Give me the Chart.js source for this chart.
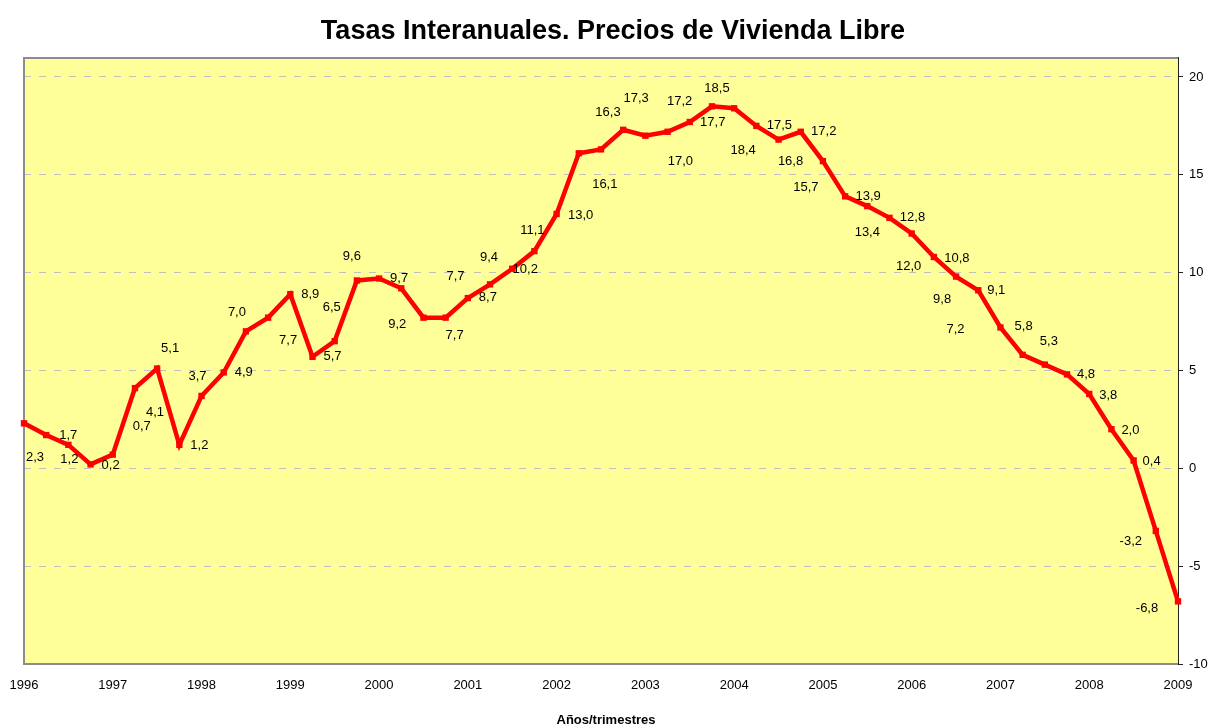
<!DOCTYPE html>
<html>
<head>
<meta charset="utf-8">
<script src="https://cdn.jsdelivr.net/npm/chart.js@4"></script>
<style>
    body { margin: 0; background: #fff; }
    canvas { display: block; }
</style>
</head>
<body>
<canvas id="chart" width="1209" height="728"></canvas>
<script>
// Year tick labels on the x axis (one per 4 quarters)
const years = ['1996', '1997', '1998', '1999', '2000', '2001', '2002', '2003', '2004', '2005', '2006', '2007', '2008', '2009'];
const quarterNames = ['I', 'II', 'III', 'IV'];

// Year-on-year rates, quarterly, 1996-I .. 2009-I
const rates = [
    2.3, 1.7, 1.2, 0.2,
    0.7, 4.1, 5.1, 1.2,
    3.7, 4.9, 7.0, 7.7,
    8.9, 5.7, 6.5, 9.6,
    9.7, 9.2, 7.7, 7.7,
    8.7, 9.4, 10.2, 11.1,
    13.0, 16.1, 16.3, 17.3,
    17.0, 17.2, 17.7, 18.5,
    18.4, 17.5, 16.8, 17.2,
    15.7, 13.9, 13.4, 12.8,
    12.0, 10.8, 9.8, 9.1,
    7.2, 5.8, 5.3, 4.8,
    3.8, 2.0, 0.4, -3.2,
    -6.8
];

// Right axis ticks
const yTicks = [-10, -5, 0, 5, 10, 15, 20];

// Where each value label sits relative to its point (dx, dy in px)
const labelOffsets = [
    [11, 34], [22, 0], [1, 15], [20, 1],
    [29, -28], [20, 24], [13, -20], [20, 1],
    [-4, -20], [20, 0], [-9, -19], [20, 23],
    [20, 0], [20, 0], [-3, -34], [-5, -24],
    [20, 0], [-4, 36], [32, -41], [9, 18],
    [20, -1], [-1, -27], [13, 1], [-2, -21],
    [24, 1], [26, 31], [7, -37], [13, -31],
    [35, 26], [12, -30], [23, 0], [5, -18],
    [9, 42], [23, 0], [12, 22], [23, 0],
    [-17, 26], [23, 0], [0, 26], [23, 0],
    [-3, 33], [23, 1], [-14, 23], [18, 0],
    [-45, 2], [1, -28], [4, -23], [19, 0],
    [19, 1], [19, 1], [18, 1], [-25, 10],
    [-31, 7]
];

// Build quarter categories from the years
const categories = [];
years.forEach((y, i) => {
    quarterNames.forEach((q, j) => {
        if (i < years.length - 1 || j === 0) categories.push(y + '-' + q);
    });
});

const FONT = '"Liberation Sans", Arial, sans-serif';

// Plot background, border, value labels and titles
const decorPlugin = {
    id: 'decor',
    beforeDraw(chart) {
        const { ctx, chartArea: a } = chart;
        ctx.save();
        ctx.fillStyle = '#ffffff';
        ctx.fillRect(0, 0, chart.width, chart.height);
        ctx.fillStyle = '#ffff99';
        ctx.fillRect(a.left, a.top, a.right - a.left, a.bottom - a.top);
        ctx.restore();
    },
    beforeDatasetsDraw(chart) {
        const { ctx, chartArea: a } = chart;
        ctx.save();
        ctx.strokeStyle = '#8c8c8c';
        ctx.lineWidth = 2;
        ctx.beginPath();
        ctx.moveTo(a.right, a.top);
        ctx.lineTo(a.left, a.top);
        ctx.lineTo(a.left, a.bottom);
        ctx.lineTo(a.right, a.bottom);
        ctx.stroke();
        ctx.strokeStyle = '#222';
        ctx.lineWidth = 1;
        ctx.beginPath();
        ctx.moveTo(a.right + 0.5, a.top - 1);
        ctx.lineTo(a.right + 0.5, a.bottom + 1);
        ctx.stroke();
        ctx.restore();
    },
    afterDatasetsDraw(chart) {
        const { ctx } = chart;
        const meta = chart.getDatasetMeta(0);
        ctx.save();
        ctx.font = '13px ' + FONT;
        ctx.fillStyle = '#000';
        ctx.textAlign = 'center';
        ctx.textBaseline = 'middle';
        meta.data.forEach((pt, i) => {
            const off = labelOffsets[i] || [0, -18];
            const txt = rates[i].toFixed(1).replace('.', ',');
            ctx.fillText(txt, pt.x + off[0], pt.y + off[1]);
        });
        ctx.restore();
    },
    afterDraw(chart) {
        const { ctx } = chart;
        ctx.save();
        ctx.fillStyle = '#000';
        ctx.textAlign = 'center';
        ctx.textBaseline = 'alphabetic';
        ctx.font = 'bold 27px ' + FONT;
        ctx.fillText('Tasas Interanuales. Precios de Vivienda Libre', 613, 39);
        ctx.font = 'bold 13px ' + FONT;
        ctx.fillText('Años/trimestres', 606, 724);
        ctx.restore();
    }
};

new Chart(document.getElementById('chart'), {
    type: 'line',
    data: {
        labels: categories,
        datasets: [{
            data: rates,
            borderColor: '#ff0000',
            backgroundColor: '#ff0000',
            borderWidth: 4.5,
            pointStyle: 'rect',
            pointRadius: 4.5,
            pointBorderWidth: 0,
            pointBackgroundColor: '#ff0000',
            tension: 0,
            clip: false
        }]
    },
    options: {
        responsive: false,
        animation: false,
        layout: { padding: { left: 24, top: 58, right: 0, bottom: 0 } },
        plugins: {
            legend: { display: false },
            title: { display: false },
            tooltip: { enabled: false }
        },
        scales: {
            x: {
                type: 'category',
                offset: false,
                grid: { display: false, drawTicks: false },
                border: { display: false },
                ticks: {
                    autoSkip: false,
                    maxRotation: 0,
                    minRotation: 0,
                    padding: 14,
                    color: '#000',
                    font: { family: FONT, size: 13 },
                    callback: (val, i) => (i % 4 === 0 ? years[i / 4] : '')
                },
                afterFit: (scale) => {
                    scale.height = 64;
                    scale.paddingLeft = 0;
                    scale.paddingRight = 0;
                }
            },
            y: {
                position: 'right',
                min: -10,
                max: 20.97,
                afterBuildTicks: (scale) => {
                    scale.ticks = yTicks.map(v => ({ value: v }));
                },
                grid: {
                    color: (c) => (c.tick && c.tick.value === -10 ? 'rgba(0,0,0,0)' : '#c0c0c0'),
                    lineWidth: 1,
                    drawTicks: true,
                    tickLength: 5,
                    tickColor: '#222',
                    tickBorderDash: []
                },
                border: { display: false, dash: [7, 8] },
                ticks: {
                    padding: 6,
                    color: '#000',
                    font: { family: FONT, size: 13 }
                },
                afterFit: (scale) => { scale.width = 31; }
            }
        }
    },
    plugins: [decorPlugin]
});
</script>
</body>
</html>
